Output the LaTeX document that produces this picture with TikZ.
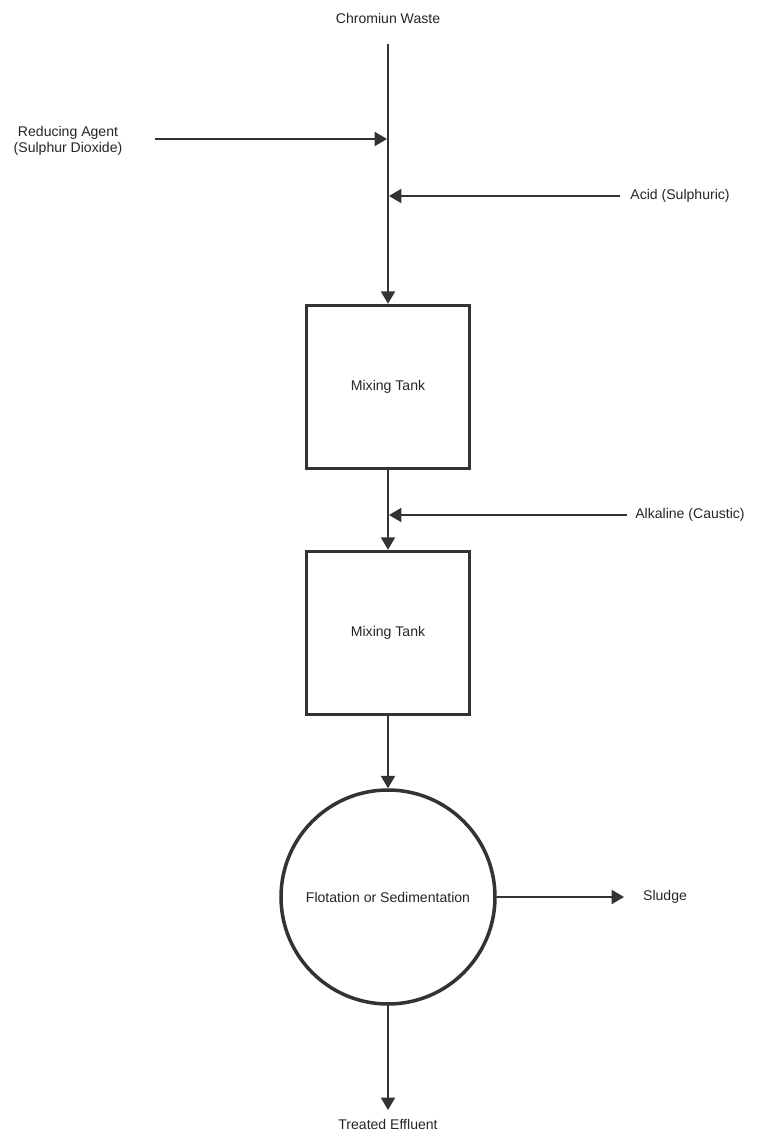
\documentclass[tikz,border=0pt]{standalone}
\usepackage{fontspec}
\setmainfont{Liberation Sans}
\usetikzlibrary{positioning,calc,arrows,arrows.meta}
\tikzset{font=\fontsize{8}{9.5}\selectfont}

\begin{document}
\begin{tikzpicture}[x=0.02cm, y=-0.02cm]
	\begin{scope}
		\tikzstyle{every node}=[align=center, inner sep=1pt, text=black!85]
		\tikzstyle{tank}=[draw=black!80, line width=2pt, minimum width=163*0.02cm, minimum height=163*0.02cm, inner sep=0pt]
		\tikzstyle{settler}=[draw=black!80, circle, line width=2pt, minimum size=214*0.02cm, inner sep=0pt]
		\tikzstyle{flow}=[draw=black!80, line width=0.8pt, -{Triangle[length=7pt, width=8pt]}]
		\useasboundingbox (0, 0) rectangle (762, 1135);

		\node (waste) at (388, 18) {Chromiun Waste};
		\node (reduce) at (68, 141) {Reducing Agent\\(Sulphur Dioxide)};
		\node (acid) at (680, 196) {Acid (Sulphuric)};
		\node[tank] (mix1) at (388, 387) {Mixing Tank};
		\node (alkali) at (690, 515) {Alkaline (Caustic)};
		\node[tank] (mix2) at (388, 633) {Mixing Tank};
		\node[settler] (float) at (388, 897) {Flotation or Sedimentation};
		\node (sludge) at (665, 897) {Sludge};
		\node (effluent) at (388, 1124) {Treated Effluent};

		\coordinate (top) at (388, 44);
		\coordinate (r0) at (155, 139);
		\coordinate (r1) at (387, 139);
		\coordinate (a0) at (620, 196);
		\coordinate (a1) at (389, 196);
		\coordinate (k0) at (627, 515);
		\coordinate (k1) at (389, 515);
		\coordinate (s1) at (624, 897);
		\coordinate (e1) at (388, 1110);

		\draw[flow] (top) -- (mix1.north);
		\draw[flow] (r0) -- (r1);
		\draw[flow] (a0) -- (a1);
		\draw[flow] (mix1.south) -- (mix2.north);
		\draw[flow] (k0) -- (k1);
		\draw[flow] (mix2.south) -- (float.north);
		\draw[flow] (float.east) -- (s1);
		\draw[flow] (float.south) -- (e1);
	\end{scope}
\end{tikzpicture}
\end{document}
